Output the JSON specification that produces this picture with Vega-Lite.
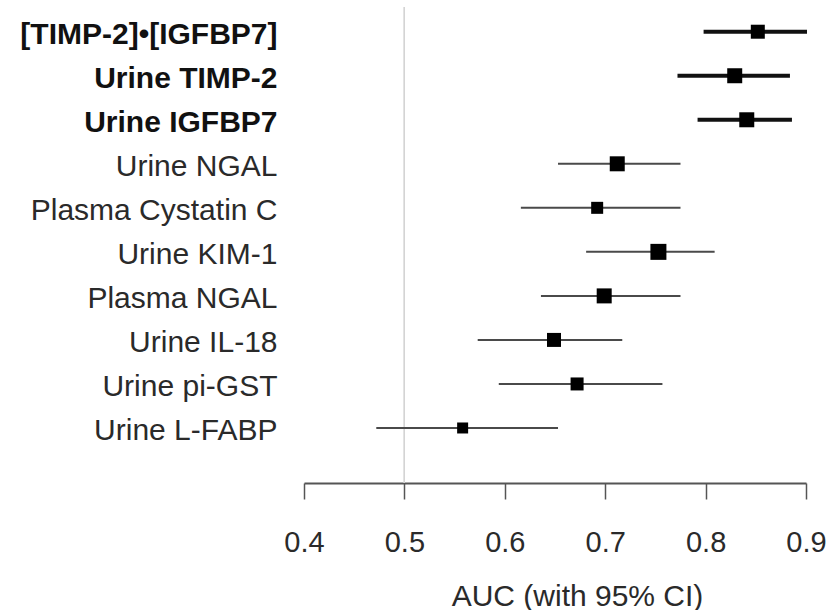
{
  "$schema": "https://vega.github.io/schema/vega-lite/v6.json",
  "autosize": "none",
  "width": 502,
  "height": 476,
  "padding": {"left": 304, "top": 7, "right": 31, "bottom": 127},
  "background": "white",
  "config": {
    "view": {"stroke": null},
    "font": "Liberation Sans"
  },
  "data": {
    "values": [
      {"marker": "[TIMP-2]•[IGFBP7]", "group": "new", "auc": 0.852, "lo": 0.798, "hi": 0.901, "weight": 14},
      {"marker": "Urine TIMP-2", "group": "new", "auc": 0.829, "lo": 0.772, "hi": 0.884, "weight": 15},
      {"marker": "Urine IGFBP7", "group": "new", "auc": 0.841, "lo": 0.792, "hi": 0.886, "weight": 15},
      {"marker": "Urine NGAL", "group": "existing", "auc": 0.712, "lo": 0.653, "hi": 0.775, "weight": 15},
      {"marker": "Plasma Cystatin C", "group": "existing", "auc": 0.692, "lo": 0.616, "hi": 0.775, "weight": 12},
      {"marker": "Urine KIM-1", "group": "existing", "auc": 0.753, "lo": 0.681, "hi": 0.809, "weight": 16},
      {"marker": "Plasma NGAL", "group": "existing", "auc": 0.699, "lo": 0.636, "hi": 0.775, "weight": 15},
      {"marker": "Urine IL-18", "group": "existing", "auc": 0.649, "lo": 0.573, "hi": 0.717, "weight": 14},
      {"marker": "Urine pi-GST", "group": "existing", "auc": 0.672, "lo": 0.594, "hi": 0.757, "weight": 13},
      {"marker": "Urine L-FABP", "group": "existing", "auc": 0.558, "lo": 0.472, "hi": 0.653, "weight": 11}
    ]
  },
  "encoding": {
    "y": {
      "field": "marker",
      "type": "nominal",
      "sort": null,
      "scale": {"type": "band", "range": [2.7, 443], "paddingInner": 0, "paddingOuter": 0},
      "axis": {
        "title": null,
        "domain": false,
        "ticks": false,
        "labelPadding": 27,
        "labelFontSize": 30,
        "labelOffset": 3,
        "labelColor": {"condition": {"test": "indexof(['[TIMP-2]•[IGFBP7]','Urine TIMP-2','Urine IGFBP7'], datum.value) >= 0", "value": "#111111"}, "value": "#2a2a2a"},
        "labelFontWeight": {"condition": {"test": "indexof(['[TIMP-2]•[IGFBP7]','Urine TIMP-2','Urine IGFBP7'], datum.value) >= 0", "value": "bold"}, "value": "normal"},
        "labelLimit": 400
      }
    }
  },
  "layer": [
    {
      "mark": {"type": "rule", "color": "#d4d4d4", "strokeWidth": 1},
      "encoding": {"x": {"datum": 0.5, "type": "quantitative"}, "y": null}
    },
    {
      "mark": {"type": "rule"},
      "encoding": {
        "x": {
          "field": "lo",
          "type": "quantitative",
          "scale": {"domain": [0.4, 0.9], "nice": false, "zero": false, "clamp": false},
          "axis": {
            "title": "AUC (with 95% CI)",
            "values": [0.4, 0.5, 0.6, 0.7, 0.8, 0.9],
            "format": ".1f",
            "grid": false,
            "domainColor": "#555555",
            "domainWidth": 2,
            "tickColor": "#555555",
            "tickWidth": 1.5,
            "tickSize": 16,
            "labelFontSize": 29,
            "labelColor": "#2a2a2a",
            "labelPadding": 29,
            "labelFlush": false,
            "titleFontSize": 30,
            "titleFontWeight": "normal",
            "titleColor": "#2a2a2a",
            "titlePadding": 24,
            "titleX": 273,
            "titleAlign": "center"
          }
        },
        "x2": {"field": "hi"},
        "color": {"field": "group", "type": "nominal", "scale": {"domain": ["new", "existing"], "range": ["#111111", "#4a4a4a"]}, "legend": null},
        "strokeWidth": {"field": "group", "type": "nominal", "scale": {"domain": ["new", "existing"], "range": [4, 2]}, "legend": null}
      }
    },
    {
      "mark": {"type": "square", "filled": true, "color": "#000000", "opacity": 1},
      "encoding": {
        "x": {"field": "auc", "type": "quantitative"},
        "size": {"field": "weight", "type": "quantitative", "scale": {"type": "pow", "exponent": 2, "domain": [0, 16], "range": [0, 256]}, "legend": null}
      }
    }
  ]
}
